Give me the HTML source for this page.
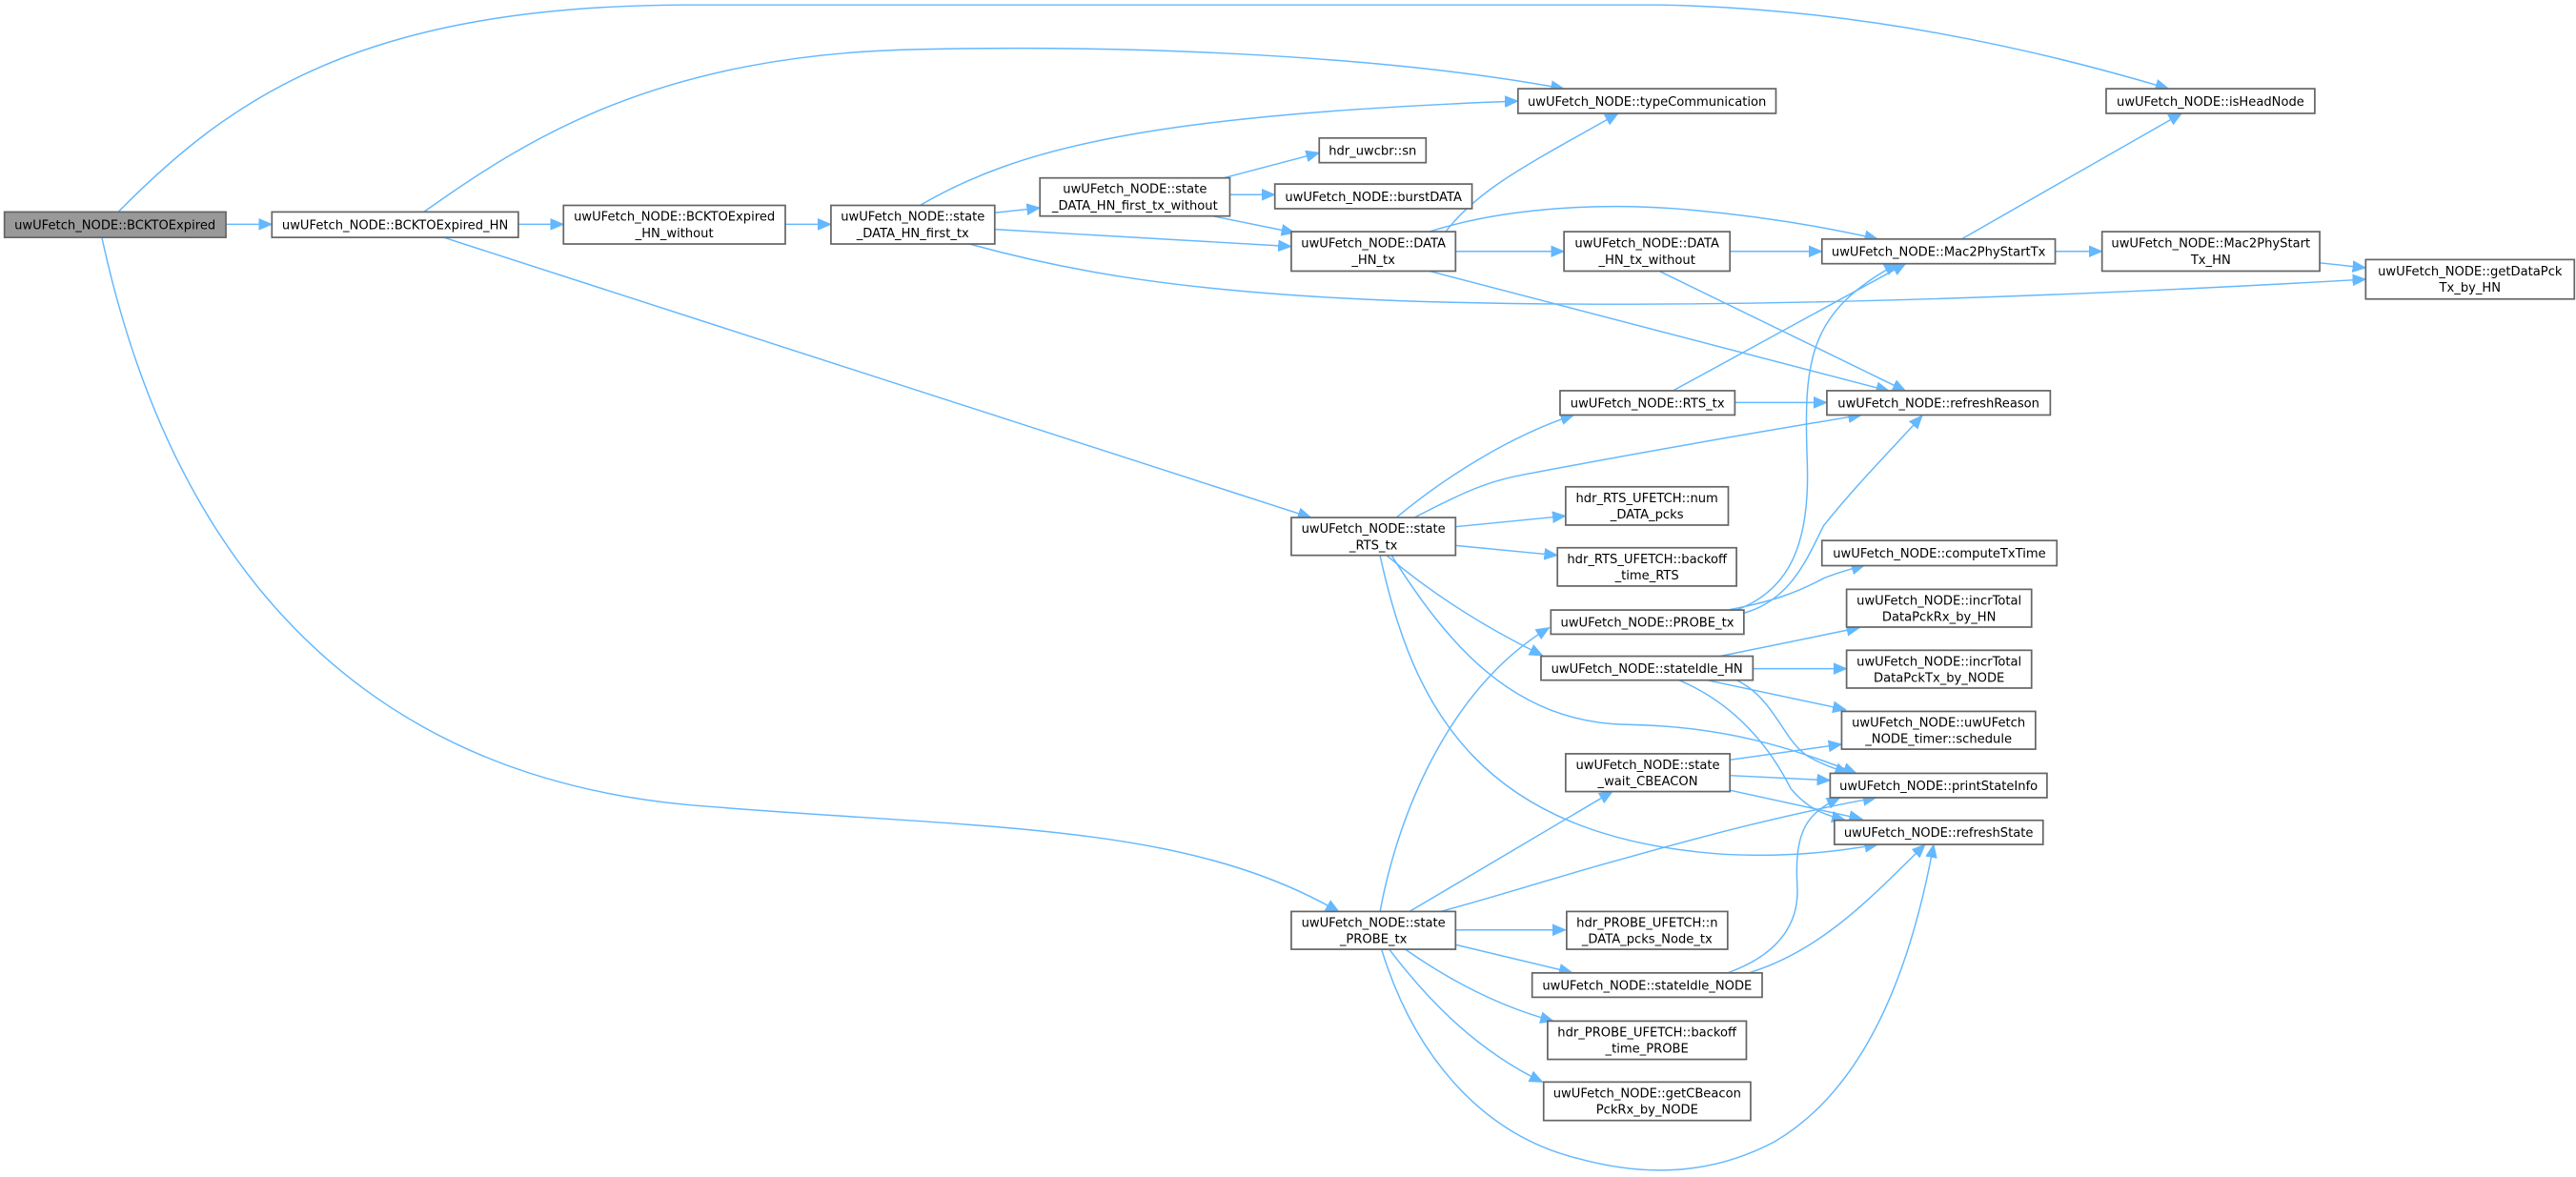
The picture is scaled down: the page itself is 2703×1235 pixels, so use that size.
<!DOCTYPE html>
<html><head><meta charset="utf-8"><style>
html,body{margin:0;padding:0;background:#fff;}
svg{display:block;}
text{font-family:"DejaVu Sans","Liberation Sans",sans-serif;font-size:7.6px;fill:#000;text-anchor:middle;}
.e{fill:none;stroke:#63b8ff;stroke-width:0.85;marker-end:url(#a);}
.n{fill:#fff;stroke:#666;stroke-width:1;}
</style></head><body>
<svg width="2703" height="1235" viewBox="0 0 1568 716.4" xmlns="http://www.w3.org/2000/svg">
<defs><marker id="a" markerUnits="userSpaceOnUse" markerWidth="9" markerHeight="8" refX="8" refY="4" orient="auto"><path d="M0,0.6 L8,4 L0,7.4 z" fill="#63b8ff" stroke="#63b8ff" stroke-width="0.5"/></marker></defs>
<rect width="1568" height="716.4" fill="#fff"/>
<path class="e" d="M137.5,136.5 L165.5,136.5"/>
<path class="e" d="M72,129 C140,60 220,3 420,3 L1010,3 C1130,5 1240,30 1320,54"/>
<path class="e" d="M62,144.5 C100,320 200,470 420,490 C600,505 720,500 815,555"/>
<path class="e" d="M258,129 C320,85 400,33 560,30 C700,27 850,35 952,54"/>
<path class="e" d="M315.6,136.5 L343,136.5"/>
<path class="e" d="M270,144.5 L798,315"/>
<path class="e" d="M478,136.5 L505.8,136.5"/>
<path class="e" d="M560,125 C620,90 700,70 924,61.5"/>
<path class="e" d="M605.5,129.5 L633,126.5"/>
<path class="e" d="M605.5,139.6 L786,150"/>
<path class="e" d="M590,148.5 C650,165 720,178 850,183 C1050,190 1300,178 1440,170"/>
<path class="e" d="M745,108.3 L803,93"/>
<path class="e" d="M748.6,118.5 L776,118.5"/>
<path class="e" d="M738,131.5 L788,141.6"/>
<path class="e" d="M880,141 C900,115 930,100 985,69"/>
<path class="e" d="M870,141 C920,125 980,124 1020,127 C1070,131 1110,138 1143,145.5"/>
<path class="e" d="M886,153 L952,153"/>
<path class="e" d="M870,165 L1150,238"/>
<path class="e" d="M1053,153 L1109,153"/>
<path class="e" d="M1010,165 L1160,238"/>
<path class="e" d="M1194,145.5 L1328,69"/>
<path class="e" d="M1251,153 L1279.5,153"/>
<path class="e" d="M1412,160 L1440,163"/>
<path class="e" d="M1018,238 L1160,160.5"/>
<path class="e" d="M1056,245 L1112,245"/>
<path class="e" d="M850,315 C880,290 920,265 958,252.6"/>
<path class="e" d="M861,315 C890,300 905,293 927,289 C1000,275 1070,263 1133,252.6"/>
<path class="e" d="M886,320.6 L953,314"/>
<path class="e" d="M886,332 L948,338"/>
<path class="e" d="M844,338 C870,360 900,380 939,399"/>
<path class="e" d="M847,338 C880,390 920,440 990,441 C1050,442 1090,455 1130,470.7"/>
<path class="e" d="M840,338 C860,430 900,510 1050,520 C1090,522 1120,518 1143,514"/>
<path class="e" d="M1053,371 C1080,366 1095,360 1110,352 C1120,348 1128,346 1135,344"/>
<path class="e" d="M1062,373 C1090,365 1100,340 1110,320 C1130,295 1150,275 1170,253"/>
<path class="e" d="M1055,372 C1090,360 1102,330 1100,280 C1098,220 1100,190 1155,160.5"/>
<path class="e" d="M1047,399.4 L1132,382"/>
<path class="e" d="M1067,407 L1124,407"/>
<path class="e" d="M1039,414 L1123.6,432"/>
<path class="e" d="M1057,414 C1080,425 1085,450 1100,460 C1110,466 1118,468 1125,470.7"/>
<path class="e" d="M1022,414 C1060,430 1080,460 1090,480 C1100,492 1110,496 1123,499"/>
<path class="e" d="M1053,462.5 L1121,453"/>
<path class="e" d="M1053,472 L1114,475"/>
<path class="e" d="M1053,481 L1133.6,498.6"/>
<path class="e" d="M840,555 C850,500 880,420 943,382"/>
<path class="e" d="M858,554.8 L981.5,481.8"/>
<path class="e" d="M877,554.8 C920,543 950,533 987,523 C1040,508 1090,495 1142,485.5"/>
<path class="e" d="M886,566 L953,566"/>
<path class="e" d="M886,575 L957,592"/>
<path class="e" d="M855.6,578 C880,595 910,612 945.6,621.5"/>
<path class="e" d="M845.8,578 C870,610 900,640 939,658.6"/>
<path class="e" d="M841,578 C860,640 900,690 960,705 C1000,716 1040,716 1080,695 C1140,660 1165,580 1177,514"/>
<path class="e" d="M1052,592 C1085,580 1095,560 1094,540 C1092,505 1100,495 1120,485.5"/>
<path class="e" d="M1065,592 C1110,578 1140,545 1171.8,514"/>
<rect x="2.7" y="129" width="134.8" height="15.5" fill="#999" stroke="#666"/>
<text x="70" y="139.5">uwUFetch_NODE::BCKTOExpired</text>
<rect class="n" x="165.5" y="129" width="150" height="15.5"/>
<text x="240.5" y="139.5">uwUFetch_NODE::BCKTOExpired_HN</text>
<rect class="n" x="343" y="125" width="135" height="23.5"/>
<text x="410.5" y="134.3">uwUFetch_NODE::BCKTOExpired</text><text x="410.5" y="144.3">_HN_without</text>
<rect class="n" x="505.8" y="125" width="99.7" height="23.5"/>
<text x="555.6" y="134.3">uwUFetch_NODE::state</text><text x="555.6" y="144.3">_DATA_HN_first_tx</text>
<rect class="n" x="633" y="108.3" width="115.6" height="23.2"/>
<text x="690.8" y="117.6">uwUFetch_NODE::state</text><text x="690.8" y="127.6">_DATA_HN_first_tx_without</text>
<rect class="n" x="924" y="54" width="157" height="15"/>
<text x="1002.5" y="64.3">uwUFetch_NODE::typeCommunication</text>
<rect class="n" x="1282" y="54" width="127" height="15"/>
<text x="1345.5" y="64.3">uwUFetch_NODE::isHeadNode</text>
<rect class="n" x="803" y="84" width="65" height="15"/>
<text x="835.5" y="94.3">hdr_uwcbr::sn</text>
<rect class="n" x="776" y="112" width="120" height="15"/>
<text x="836" y="122.3">uwUFetch_NODE::burstDATA</text>
<rect class="n" x="786" y="141" width="100" height="24"/>
<text x="836" y="150.6">uwUFetch_NODE::DATA</text><text x="836" y="160.6">_HN_tx</text>
<rect class="n" x="952" y="141" width="101" height="24"/>
<text x="1002.5" y="150.6">uwUFetch_NODE::DATA</text><text x="1002.5" y="160.6">_HN_tx_without</text>
<rect class="n" x="1109" y="145.5" width="142" height="15"/>
<text x="1180" y="155.8">uwUFetch_NODE::Mac2PhyStartTx</text>
<rect class="n" x="1279.5" y="141" width="132.5" height="24"/>
<text x="1345.7" y="150.6">uwUFetch_NODE::Mac2PhyStart</text><text x="1345.7" y="160.6">Tx_HN</text>
<rect class="n" x="1440" y="158" width="127" height="24"/>
<text x="1503.5" y="167.6">uwUFetch_NODE::getDataPck</text><text x="1503.5" y="177.6">Tx_by_HN</text>
<rect class="n" x="949.6" y="237.8" width="106.4" height="14.8"/>
<text x="1002.8" y="248">uwUFetch_NODE::RTS_tx</text>
<rect class="n" x="1112" y="237.8" width="136" height="14.8"/>
<text x="1180" y="248">uwUFetch_NODE::refreshReason</text>
<rect class="n" x="786" y="315" width="100" height="23"/>
<text x="836" y="324.3">uwUFetch_NODE::state</text><text x="836" y="334.3">_RTS_tx</text>
<rect class="n" x="953" y="296.3" width="99" height="23.3"/>
<text x="1002.5" y="305.6">hdr_RTS_UFETCH::num</text><text x="1002.5" y="315.6">_DATA_pcks</text>
<rect class="n" x="948" y="333.4" width="109" height="23.3"/>
<text x="1002.5" y="342.7">hdr_RTS_UFETCH::backoff</text><text x="1002.5" y="352.7">_time_RTS</text>
<rect class="n" x="1109" y="329" width="143" height="15.3"/>
<text x="1180.5" y="339.4">uwUFetch_NODE::computeTxTime</text>
<rect class="n" x="944" y="371.3" width="117.5" height="14.7"/>
<text x="1002.7" y="381.4">uwUFetch_NODE::PROBE_tx</text>
<rect class="n" x="1124" y="358.7" width="112.6" height="23"/>
<text x="1180.3" y="368">uwUFetch_NODE::incrTotal</text><text x="1180.3" y="378">DataPckRx_by_HN</text>
<rect class="n" x="938" y="399.4" width="129" height="14.6"/>
<text x="1002.5" y="409.5">uwUFetch_NODE::stateIdle_HN</text>
<rect class="n" x="1124" y="395.8" width="112.6" height="23"/>
<text x="1180.3" y="405.1">uwUFetch_NODE::incrTotal</text><text x="1180.3" y="415.1">DataPckTx_by_NODE</text>
<rect class="n" x="1121" y="433" width="118" height="23"/>
<text x="1180" y="442.3">uwUFetch_NODE::uwUFetch</text><text x="1180" y="452.3">_NODE_timer::schedule</text>
<rect class="n" x="953" y="458.8" width="100" height="23"/>
<text x="1003" y="468.1">uwUFetch_NODE::state</text><text x="1003" y="478.1">_wait_CBEACON</text>
<rect class="n" x="1114" y="470.7" width="132" height="14.8"/>
<text x="1180" y="480.8">uwUFetch_NODE::printStateInfo</text>
<rect class="n" x="1116.6" y="499.3" width="127" height="14.7"/>
<text x="1180" y="509.4">uwUFetch_NODE::refreshState</text>
<rect class="n" x="786" y="554.8" width="100" height="23"/>
<text x="836" y="564.1">uwUFetch_NODE::state</text><text x="836" y="574.1">_PROBE_tx</text>
<rect class="n" x="953.6" y="554.8" width="98" height="23"/>
<text x="1002.6" y="564.1">hdr_PROBE_UFETCH::n</text><text x="1002.6" y="574.1">_DATA_pcks_Node_tx</text>
<rect class="n" x="932.6" y="592.2" width="140" height="14.8"/>
<text x="1002.6" y="602.3">uwUFetch_NODE::stateIdle_NODE</text>
<rect class="n" x="942" y="621.5" width="121" height="23.3"/>
<text x="1002.5" y="630.8">hdr_PROBE_UFETCH::backoff</text><text x="1002.5" y="640.8">_time_PROBE</text>
<rect class="n" x="939.6" y="658.6" width="126" height="23.4"/>
<text x="1002.6" y="667.9">uwUFetch_NODE::getCBeacon</text><text x="1002.6" y="677.9">PckRx_by_NODE</text>
</svg>
</body></html>
